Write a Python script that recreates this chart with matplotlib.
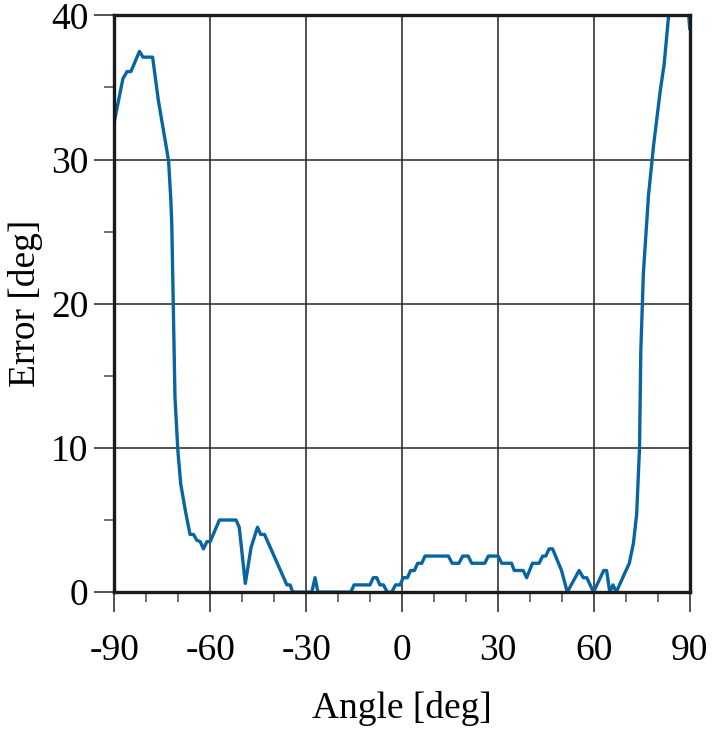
import matplotlib
matplotlib.use('Agg')
import matplotlib.pyplot as plt
from matplotlib.ticker import MultipleLocator

# angle sweep and resulting error
angle = [-90, -87.3, -86.0, -84.8, -82.1, -81.0, -78.0, -76.2, -73.9, -73.0,
         -72.3, -72.0, -71.0, -70.1, -69.2, -67.8, -66.3, -65.2, -64.2, -63.1,
         -62.1, -61.0, -60.0, -57.1, -51.9, -50.9, -49.0, -47.2, -45.2, -44.2,
         -43.0, -36.0, -35.0, -34.2, -28.2, -27.2, -26.3, -16.0, -15.0, -10.0,
         -9.0, -7.9, -6.9, -5.8, -4.6, -3.2, -2.0, -0.6, 0.4, 1.7,
         2.7, 3.9, 4.9, 6.2, 7.2, 14.5, 15.7, 17.8, 19.0, 20.7,
         21.8, 25.9, 27.0, 30.1, 31.2, 34.3, 35.1, 37.9, 39.0, 40.8,
         42.9, 44.0, 45.0, 46.0, 47.1, 49.9, 51.7, 55.4, 56.7, 57.8,
         59.9, 63.1, 64.0, 65.0, 66.0, 67.0, 71.1, 72.4, 73.4, 74.3,
         74.7, 75.5, 77.1, 78.7, 80.8, 82.0, 83.4, 85.0, 88.0, 89.5, 90]
error = [32.6, 35.6, 36.1, 36.1, 37.5, 37.1, 37.1, 34.1, 31.1, 29.9,
         27.2, 25.5, 13.5, 9.8, 7.5, 5.7, 4.0, 4.0, 3.6, 3.5,
         3.0, 3.5, 3.5, 5.0, 5.0, 4.5, 0.6, 3.1, 4.5, 4.0,
         4.0, 0.5, 0.5, 0.0, 0.0, 1.0, 0.0, 0.0, 0.5, 0.5,
         1.0, 1.0, 0.5, 0.5, 0.0, 0.0, 0.5, 0.5, 1.0, 1.0,
         1.5, 1.5, 2.0, 2.0, 2.5, 2.5, 2.0, 2.0, 2.5, 2.5,
         2.0, 2.0, 2.5, 2.5, 2.0, 2.0, 1.5, 1.5, 1.0, 2.0,
         2.0, 2.5, 2.5, 3.0, 3.0, 1.5, 0.0, 1.5, 1.0, 1.0,
         0.0, 1.5, 1.5, 0.0, 0.5, 0.0, 2.0, 3.4, 5.4, 10.0,
         16.7, 22.1, 27.5, 31.0, 34.8, 36.6, 40.0, 43.0, 43.0, 40.5, 39.1]

xticks = [-90, -60, -30, 0, 30, 60, 90]
xtick_labels = ['-90', '-60', '-30', '0', '30', '60', '90']

plt.rcParams['font.family'] = ['Liberation Serif', 'DejaVu Serif']

fig = plt.figure(figsize=(7.14, 7.31), dpi=100)
ax = fig.add_axes([0.160, 0.190, 0.806, 0.789])

ax.plot(angle, error, color='#0865a3', lw=2.4, zorder=3)

ax.set_xlim(-90, 90)
ax.set_ylim(0, 40)
ax.set_xticks(xticks)
ax.set_xticklabels(xtick_labels)
ax.xaxis.set_minor_locator(MultipleLocator(10))
ax.yaxis.set_major_locator(MultipleLocator(10))
ax.yaxis.set_minor_locator(MultipleLocator(5))

ax.grid(True, which='major', color='#333333', lw=1.2)
ax.set_axisbelow(True)
for s in ax.spines.values():
    s.set_linewidth(2.4)
    s.set_color('#1a1a1a')
    s.set_zorder(4)

ax.tick_params(axis='x', which='major', direction='out', length=14.5, width=1.3,
               color='#444444', labelsize=27, pad=15)
ax.tick_params(axis='x', which='minor', direction='out', length=7.5, width=1.3,
               color='#666666')
ax.tick_params(axis='y', which='major', direction='out', length=14.5, width=1.3,
               color='#444444', labelsize=27, pad=4)
ax.tick_params(axis='y', which='minor', direction='out', length=7.5, width=1.3,
               color='#666666')

ax.set_xlabel('Angle [deg]', fontsize=27, labelpad=17)
ax.set_ylabel('Error [deg]', fontsize=27, labelpad=6)

fig.savefig('out.png', dpi=100)
